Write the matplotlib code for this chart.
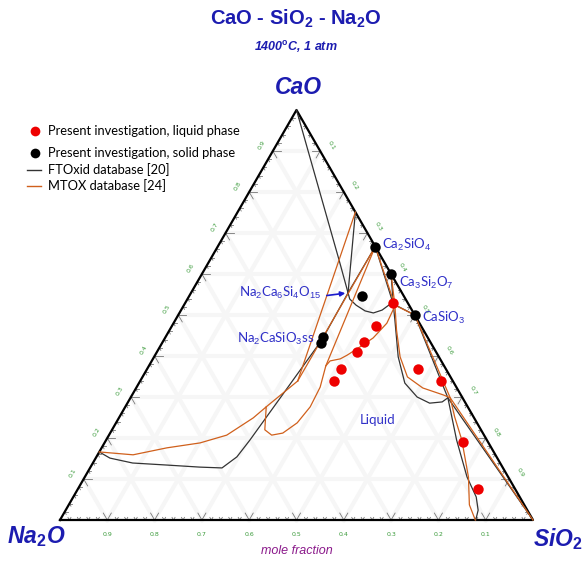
import numpy as np
import matplotlib.pyplot as plt

plt.rcParams["mathtext.fontset"] = "custom"
plt.rcParams["mathtext.rm"] = "Liberation Sans"
plt.rcParams["mathtext.it"] = "Liberation Sans:italic"
plt.rcParams["mathtext.bf"] = "Liberation Sans:bold"

# compositions are (CaO, SiO2) mole fractions, Na2O is the remainder
liquid_cao = [0.529, 0.473, 0.434, 0.410, 0.368, 0.339, 0.368, 0.339, 0.190, 0.076]
liquid_sio2 = [0.439, 0.431, 0.426, 0.423, 0.410, 0.409, 0.573, 0.636, 0.757, 0.846]

solid_cao = [0.667, 0.600, 0.500, 0.546, 0.432, 0.446]
solid_sio2 = [0.333, 0.400, 0.500, 0.365, 0.336, 0.333]

star_cao, star_sio2 = 0.554, 0.332

# FTOxid database [20]
ftox_curves = [
    [(1.0, 0.0), (0.634, 0.273), (0.573, 0.318), (0.554, 0.332), (0.539, 0.343),
     (0.524, 0.364), (0.510, 0.390), (0.505, 0.410), (0.512, 0.425),
     (0.527, 0.435), (0.532, 0.440)],
    [(0.166, 0.0), (0.151, 0.030), (0.139, 0.084), (0.134, 0.159), (0.129, 0.231),
     (0.127, 0.279), (0.154, 0.297), (0.195, 0.304), (0.300, 0.317),
     (0.439, 0.334), (0.554, 0.332), (0.667, 0.333)],
    [(0.751, 0.249), (0.554, 0.332)],
    [(0.667, 0.333), (0.527, 0.441)],
    [(0.600, 0.400), (0.527, 0.441)],
    [(0.527, 0.441), (0.500, 0.500)],
    [(0.527, 0.441), (0.488, 0.464), (0.398, 0.516), (0.334, 0.562), (0.300, 0.605),
     (0.285, 0.639), (0.288, 0.664), (0.298, 0.671)],
    [(0.500, 0.500), (0.298, 0.671), (0.195, 0.741), (0.105, 0.808),
     (0.056, 0.852), (0.024, 0.872), (0.0, 0.879)],
    [(0.298, 0.671), (0.0, 1.0)],
]

# MTOX database [24]
mtox_curves = [
    [(0.166, 0.0), (0.159, 0.075), (0.176, 0.138), (0.188, 0.202), (0.207, 0.249),
     (0.249, 0.284), (0.276, 0.298), (0.220, 0.323), (0.207, 0.344), (0.212, 0.365),
     (0.237, 0.383), (0.276, 0.391), (0.324, 0.388), (0.376, 0.374), (0.388, 0.377),
     (0.393, 0.396), (0.402, 0.406), (0.422, 0.423), (0.444, 0.440), (0.480, 0.451),
     (0.512, 0.448), (0.524, 0.446)],
    [(0.524, 0.446), (0.463, 0.480), (0.398, 0.520), (0.349, 0.560), (0.322, 0.606),
     (0.305, 0.658), (0.298, 0.676), (0.251, 0.709), (0.195, 0.752), (0.105, 0.811),
     (0.037, 0.847), (0.0, 0.878)],
    [(0.751, 0.249), (0.339, 0.333)],
    [(0.667, 0.333), (0.339, 0.333)],
    [(0.339, 0.333), (0.276, 0.298)],
    [(0.667, 0.333), (0.376, 0.374)],
    [(0.667, 0.333), (0.524, 0.446)],
    [(0.600, 0.400), (0.524, 0.446)],
    [(0.524, 0.446), (0.500, 0.500)],
    [(0.500, 0.500), (0.298, 0.676), (0.0, 1.0)],
]

tick_values = [0.1, 0.2, 0.3, 0.4, 0.5, 0.6, 0.7, 0.8, 0.9]

# triangle placement in figure pixels
X0, Y0 = 60.0, 520.0
W, H = 473.0, 410.0

BLUE = "#1c1cb0"
LABEL_BLUE = "#3030c8"
ORANGE = "#d0601c"
GREEN = "#3a9a3a"


def tern(cao, sio2):
    cao = np.asarray(cao, dtype=float)
    sio2 = np.asarray(sio2, dtype=float)
    return X0 + W * (sio2 + cao / 2), Y0 - H * cao


def draw_path(ax, path, **kw):
    cao, sio2 = zip(*path)
    x, y = tern(cao, sio2)
    ax.plot(x, y, **kw)


fig = plt.figure(figsize=(5.84, 5.62), dpi=100)
ax = fig.add_axes([0, 0, 1, 1])
ax.set_xlim(0, 584)
ax.set_ylim(562, 0)
ax.axis("off")

# very faint background grid
for v in np.arange(0.1, 1.0, 0.1):
    for path in ([(v, 0), (v, 1 - v)], [(0, v), (1 - v, v)], [(v, 0), (0, v)]):
        draw_path(ax, path, color="#f6f6f6", lw=3, zorder=0)

# triangle frame
draw_path(ax, [(0, 0), (0, 1), (1, 0), (0, 0)], color="black", lw=1.6, zorder=3)

# edge ticks: arms follow the two grid directions pointing into the triangle
s3 = np.sqrt(3) / 2
edges = {
    "bottom": (lambda t: (0.0, 1 - t), [(0.5, -s3), (-0.5, -s3)]),
    "left": (lambda t: (t, 0.0), [(1, 0), (0.5, s3)]),
    "right": (lambda t: (1 - t, t), [(-1, 0), (-0.5, s3)]),
}
for name, (pos, arms) in edges.items():
    for i in range(1, 50):
        t = i / 50
        x, y = tern(*pos(t))
        length = 8 if i % 5 == 0 else 3
        for dx, dy in arms:
            ax.plot([x, x + dx * length], [y, y + dy * length],
                    color="#777777", lw=0.6, zorder=2)

for v in tick_values:
    x, y = tern(0.0, 1 - v)
    ax.text(x, y + 14, f"{v:.1f}", color=GREEN, fontsize=4.5, ha="center", va="center")
    x, y = tern(v, 0.0)
    ax.text(x - 11, y - 6, f"{v:.1f}", color=GREEN, fontsize=4.5, ha="center",
            va="center", rotation=60)
    x, y = tern(1 - v, v)
    ax.text(x + 11, y - 6, f"{v:.1f}", color=GREEN, fontsize=4.5, ha="center",
            va="center", rotation=-60)

# database curves
for path in ftox_curves:
    draw_path(ax, path, color="#333333", lw=0.9, zorder=4)
for path in mtox_curves:
    draw_path(ax, path, color=ORANGE, lw=0.9, zorder=4)

# experimental points
x, y = tern(liquid_cao, liquid_sio2)
ax.plot(x, y, "o", color="#ee0000", ms=7.5, mec="none", zorder=5)
x, y = tern(solid_cao, solid_sio2)
ax.plot(x, y, "o", color="black", ms=7.5, mec="none", zorder=5)

sx, sy = tern(star_cao, star_sio2)
ax.annotate("", xy=(sx, sy), xytext=(sx - 24, sy + 3),
            arrowprops=dict(arrowstyle="-|>", color="#1a1acc", lw=1.2,
                            mutation_scale=7), zorder=6)

# phase labels
lab = dict(color=LABEL_BLUE, fontsize=9.5, family="Lato", va="center", zorder=6)
ax.text(382, 245, "Ca$_2$SiO$_4$", ha="left", **lab)
ax.text(399, 283, "Ca$_3$Si$_2$O$_7$", ha="left", **lab)
ax.text(422, 318, "CaSiO$_3$", ha="left", **lab)
ax.text(239, 293, "Na$_2$Ca$_6$Si$_4$O$_{15}$", ha="left", **lab)
ax.text(237, 339, "Na$_2$CaSiO$_3$ss", ha="left", **lab)
ax.text(378, 420, "Liquid", ha="center", **lab)

# titles and corner labels
ax.text(296, 19, r"CaO - SiO$_\mathbf{2}$ - Na$_\mathbf{2}$O", color=BLUE, fontsize=14.5,
        fontweight="bold", family="Liberation Sans", ha="center", va="center")
ax.text(296, 47, r"1400$^\mathbf{o}$C, 1 atm", color=BLUE, fontsize=9,
        fontweight="bold", style="italic", family="Liberation Sans",
        ha="center", va="center")
corner = dict(color=BLUE, fontsize=16.5, fontweight="bold", style="italic",
              family="Liberation Sans", va="center")
ax.text(298, 87, "CaO", ha="center", **corner)
ax.text(36, 537, r"Na$_\mathbf{2}$O", ha="center", **corner)
ax.text(558, 539, r"SiO$_\mathbf{2}$", ha="center", **corner)
ax.text(297, 551, "mole fraction", color="#8b1a8b", fontsize=9, style="italic",
        family="Liberation Sans", ha="center", va="center")

# legend
leg = dict(color="black", fontsize=9.3, family="Lato", va="center", ha="left")
ax.plot([35], [131], "o", color="#ee0000", ms=7, mec="none")
ax.text(48, 131, "Present investigation, liquid phase", **leg)
ax.plot([35], [153], "o", color="black", ms=7, mec="none")
ax.text(48, 153, "Present investigation, solid phase", **leg)
ax.plot([27, 41], [170, 170], color="#333333", lw=1)
ax.text(48, 170, "FTOxid database [20]", **leg)
ax.plot([27, 41], [186, 186], color=ORANGE, lw=1)
ax.text(48, 186, "MTOX database [24]", **leg)

fig.savefig("out.png", dpi=100)
